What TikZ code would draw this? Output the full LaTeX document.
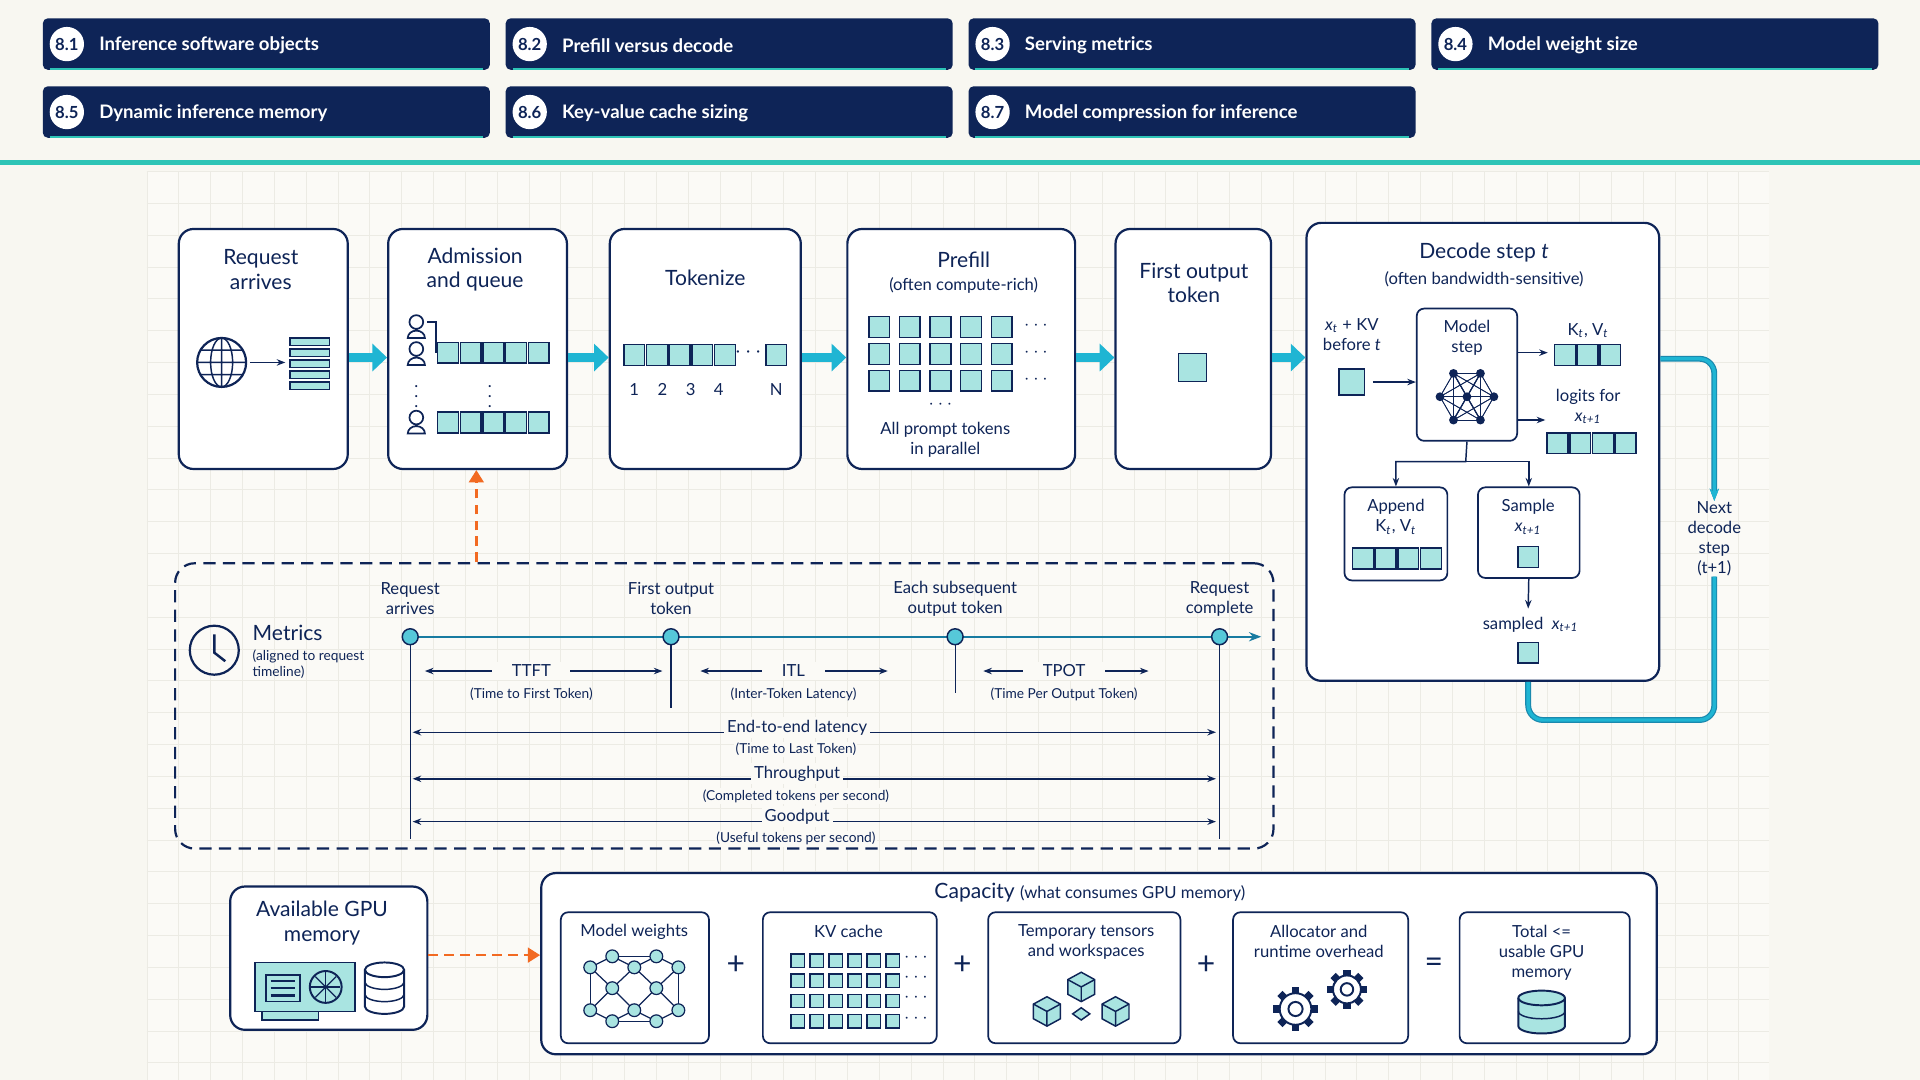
\documentclass[tikz,border=0pt]{standalone}
\usepackage{fontspec}
\setmainfont{Lato}
\usetikzlibrary{arrows.meta,positioning,calc}
\definecolor{navy}{HTML}{0E2457}
\definecolor{teal}{HTML}{A9E4E1}
\definecolor{cyanar}{HTML}{1FB5D3}
\definecolor{orng}{HTML}{F26A22}
\definecolor{bgpaper}{HTML}{F8F7F1}
\definecolor{bgpanel}{HTML}{FBFAF6}
\definecolor{gridc}{HTML}{ECEBE4}
\definecolor{sepc}{HTML}{2EC4B6}
\newcommand{\ftitle}{\fontsize{8.6}{10}\selectfont}
\newcommand{\fsmall}{\fontsize{6.8}{8.2}\selectfont}
\newcommand{\ftiny}{\fontsize{5.6}{6.8}\selectfont}
\newcommand{\vx}[1]{\textit{x}\textsubscript{\textit{#1}}}
\tikzset{
	box/.style={draw=navy, line width=0.9pt, rounded corners=6pt, fill=white, inner sep=0},
	hbar/.style={fill=navy, rounded corners=2pt, minimum width=182.5pt, minimum height=21pt, inner sep=0},
	badge/.style={circle, fill=white, text=navy, inner sep=0, minimum size=14pt, font=\fsmall\bfseries},
	htext/.style={text=white, font=\fontsize{7.6}{9}\selectfont\bfseries, anchor=west},
	sq/.style={draw=navy, fill=teal, line width=0.6pt, minimum size=8.5pt, inner sep=0},
	lbl/.style={text=navy, align=center, inner sep=0},
	bigar/.style={-{Triangle[length=6pt,width=11pt]}, cyanar, line width=4pt},
	thin/.style={-{Stealth[length=3.5pt]}, navy, line width=0.6pt},
	dim/.style={{Stealth[length=3.5pt]}-{Stealth[length=3.5pt]}, navy, line width=0.6pt},
	gbg/.style={fill=bgpanel, inner sep=1.2pt},
}
\begin{document}
\begin{tikzpicture}[x=0.5pt, y=-0.5pt]
\useasboundingbox (0,0) rectangle (1568,882);
\fill[bgpaper] (0,0) rectangle (1568,882);
% panel with grid
\fill[bgpanel] (120,140) rectangle (1445,882);
\foreach \gx in {120,146,...,1445} \draw[gridc, line width=0.3pt] (\gx,140) -- (\gx,882);
\foreach \gy in {140,166,...,882} \draw[gridc, line width=0.3pt] (120,\gy) -- (1445,\gy);

% header bars
\foreach \n/\t [count=\i from 0] in {8.1/Inference software objects, 8.2/Prefill versus decode, 8.3/Serving metrics, 8.4/Model weight size, 8.5/Dynamic inference memory, 8.6/Key-value cache sizing, 8.7/Model compression for inference}{
	\pgfmathtruncatemacro{\col}{mod(\i,4)}
	\pgfmathtruncatemacro{\row}{\i/4}
	\node[hbar] (h\i) at (217.5+378*\col, 36+55.5*\row) {};
	\draw[sepc, line width=0.8pt] ($(h\i.south west)+(6,-1)$) -- ($(h\i.south east)+(-6,-1)$);
	\node[badge] (hb\i) at ($(h\i.west)+(20,0)$) {\n};
	\node[htext] at ($(hb\i.east)+(5,1)$) {\t};
}
\draw[sepc, line width=2pt] (0,133) -- (1568,133);

% top pipeline
\node[box, minimum width=69pt, minimum height=98pt] (req) at (215,285) {};
\node[box, minimum width=73pt, minimum height=98pt] (adm) at (390,285) {};
\node[box, minimum width=78pt, minimum height=98pt] (tok) at (576,285) {};
\node[box, minimum width=93pt, minimum height=98pt] (pre) at (785,285) {};
\node[box, minimum width=63.5pt, minimum height=98pt] (fot) at (974.5,285) {};
\node[box, minimum width=144pt, minimum height=187pt] (dec) at (1211,369) {};
\foreach \a/\b in {req/adm, adm/tok, tok/pre, pre/fot}
	\draw[bigar] (\a.east |- 0,292) -- (\b.west |- 0,292);
\draw[bigar] (fot.east |- 0,292) -- (dec.west |- 0,292);

% request arrives
\node[lbl, font=\ftitle] at (213,220) {Request\\arrives};
\draw[navy, line width=0.9pt] (181,296) circle (10pt);
\draw[navy, line width=0.6pt] (181,296) ellipse (4.5pt and 10pt) (161,296) -- (201,296) (163,286) -- (199,286) (163,306) -- (199,306) (181,276) -- (181,316);
\draw[thin] (204,296) -- (233,296);
\foreach \k in {0,...,4} \draw[navy, fill=teal, line width=0.6pt] (237,276+\k*9) rectangle (269,282+\k*9);

% admission
\node[lbl, font=\ftitle] at (388,220) {Admission\\and queue};
\foreach \yy in {268,290,346}{
	\draw[navy, line width=0.7pt] (340,\yy-5) circle (2.8pt) (333,\yy+8) arc (180:360:7 and 6) -- cycle;
}
\foreach \yy in {288,345}{ \foreach \k in {0,...,4} \node[sq] at (366+\k*18.5,\yy) {}; }
\draw[navy, line width=0.6pt] (349,263) -- (356,263) -- (356,288);
\node[lbl, font=\fsmall] at (340,318) {$\vdots$};
\node[lbl, font=\fsmall] at (400,318) {$\vdots$};

% tokenize
\node[lbl, font=\ftitle] at (576,227) {Tokenize};
\foreach \k in {0,...,4} \node[sq] at (518+\k*18.5,290) {};
\node[lbl, font=\ftitle] at (611,288) {$\cdots$};
\node[sq] at (634,290) {};
\foreach \k/\v in {0/1,1/2,2/3,3/4} \node[lbl, font=\fsmall] at (518+\k*23,318) {\v};
\node[lbl, font=\fsmall] at (634,318) {N};

% prefill
\node[lbl, font=\ftitle] at (787,212) {Prefill};
\node[lbl, font=\fsmall] at (787,233) {(often compute-rich)};
\foreach \r in {0,1,2}{
	\foreach \k in {0,...,4} \node[sq] at (718+\k*25,267+\r*22) {};
	\node[lbl, font=\fsmall] at (846,266+\r*22) {$\cdots$};
}
\node[lbl, font=\fsmall] at (768,330) {$\cdots$};
\node[lbl, font=\fsmall] at (772,359) {All prompt tokens\\in parallel};

% first output token
\node[lbl, font=\ftitle] at (975,231) {First output\\token};
\node[sq, minimum size=11.5pt] at (974,300) {};

% decode step
\node[lbl, font=\ftitle] at (1212,206) {Decode step \textit{t}};
\node[lbl, font=\fsmall] at (1212,228) {(often bandwidth-sensitive)};
\node[box, minimum width=41pt, minimum height=54pt, line width=0.7pt, rounded corners=3pt] (mstep) at (1198,306) {};
\node[lbl, font=\fsmall] at (1198,276) {Model\\step};
\foreach \ang in {0,60,...,300} \coordinate (mn\ang) at ($(1198,324)+(\ang:22)$);
\foreach \ang in {0,60,...,300}{
	\draw[navy, line width=0.5pt] (1198,324) -- (mn\ang);
	\foreach \bng in {0,60,...,300} \draw[navy, line width=0.3pt] (mn\ang) -- (mn\bng);
}
\foreach \ang in {0,60,...,300} \fill[navy] (mn\ang) circle (1.8pt);
\fill[navy] (1198,324) circle (1.8pt);
\node[lbl, font=\fsmall] at (1104,273) {\vx{t} + KV\\before \textit{t}};
\node[sq, minimum size=10.5pt] (xin) at (1104,312) {};
\draw[thin] (xin.east)+(6,0) -- (mstep.west |- xin);
\node[lbl, font=\fsmall] at (1297,270) {K\textsubscript{\textit{t}}, V\textsubscript{\textit{t}}};
\draw[thin] (mstep.east |- 0,288) -- (1264,288);
\foreach \k in {0,1,2} \node[sq] at (1278+\k*18.5,290) {};
\node[lbl, font=\fsmall] at (1297,332) {logits for\\\vx{t+1}};
\draw[thin] (mstep.east |- 0,343) -- (1262,343);
\foreach \k in {0,...,3} \node[sq] at (1272+\k*18.5,362) {};
\node[box, minimum width=42pt, minimum height=38pt, line width=0.7pt, rounded corners=3pt] (app) at (1140,436) {};
\node[box, minimum width=41.5pt, minimum height=37pt, line width=0.7pt, rounded corners=3pt] (smp) at (1248.5,435) {};
\draw[thin] (mstep.south) -- (1197,377) -| (app.north);
\draw[thin] (1197,377) -| (smp.north);
\node[lbl, font=\fsmall] at (1140,422) {Append\\K\textsubscript{\textit{t}}, V\textsubscript{\textit{t}}};
\foreach \k in {0,...,3} \node[sq] at (1113+\k*18.5,456) {};
\node[lbl, font=\fsmall] at (1248,422) {Sample\\\vx{t+1}};
\node[sq] at (1248,455) {};
\coordinate (smpout) at (1248,497);
\draw[thin] (smp.south) -- (smpout);
\node[lbl, font=\fsmall] at (1250,510) {sampled \ \vx{t+1}};
\node[sq] at (1248,533) {};
\node[lbl, font=\fsmall] (nxt) at (1400,440) {Next\\decode\\step\\(t+1)};
\draw[cyanar!70!navy, line width=2.4pt, rounded corners=6pt, -{Stealth[length=5pt]}] (dec.east |- 0,293) -| (nxt.north);
\draw[cyanar, line width=1.4pt, rounded corners=6pt, -{Stealth[length=5pt]}] (dec.east |- 0,293) -| (nxt.north);
\draw[cyanar!70!navy, line width=2.4pt, rounded corners=6pt] (nxt.south) |- (1248,588) -- (dec.south -| 1248,0);
\draw[cyanar, line width=1.4pt, rounded corners=6pt] (nxt.south) |- (1248,588) -- (dec.south -| 1248,0);

% metrics
\node[draw=navy, dashed, dash pattern=on 5pt off 3pt, line width=0.9pt, rounded corners=8pt, minimum width=448.5pt, minimum height=116.5pt] (met) at (591.5,576.5) {};
\draw[orng, line width=1pt, dashed, dash pattern=on 4pt off 2.5pt, -{Triangle[length=5pt,width=6pt]}] (met.north -| 389,0) -- (adm.south -| 389,0);
\draw[navy, line width=0.9pt] (175,531) circle (10pt);
\draw[navy, line width=1pt] (175,518) -- (175,533) -- (184,540);
\node[lbl, font=\ftitle, anchor=west] at (206,517) {Metrics};
\node[lbl, font=\ftiny, anchor=north west, align=left] at (206,530) {(aligned to request\\timeline)};
\coordinate (tend) at (1030,520);
\draw[cyanar!60!navy, line width=1pt, -{Stealth[length=5pt]}] (335,520) -- (tend);
\foreach \nm/\xx/\tt in {ra/335/Request\\arrives, ft/548/First output\\token, es/780/Each subsequent\\output token, rc/996/Request\\complete}{
	\node[circle, draw=navy, fill=cyanar!60!teal, line width=0.6pt, minimum size=6.5pt, inner sep=0] (\nm) at (\xx,520) {};
	\node[lbl, font=\fsmall] at (\xx,489) {\tt};
}
\draw[navy, line width=0.5pt] (ra.south) -- (335,685);
\draw[navy, line width=0.5pt] (rc.south) -- (996,685);
\draw[navy, line width=0.5pt] (ft.south) -- (548,578);
\draw[navy, line width=0.5pt] (es.south) -- (780,566);
% short spans
\foreach \xa/\xb/\xm/\nm/\sub in {347/541/434/TTFT/Time to First Token, 572/725/648/ITL/Inter-Token Latency, 803/938/869/TPOT/Time Per Output Token}{
	\draw[dim] (\xa,548) -- (\xb,548);
	\node[gbg, font=\fsmall, text=navy, inner xsep=8pt] at (\xm,548) {\nm};
	\node[lbl, font=\ftiny] at (\xm,567) {(\sub)};
}
% long spans
\foreach \yy/\nm/\sub in {598/End-to-end latency/Time to Last Token, 636/Throughput/Completed tokens per second, 671/Goodput/Useful tokens per second}{
	\draw[dim] (337,\yy) -- (993,\yy);
	\node[gbg, font=\fsmall, text=navy] at (651,\yy-4) {\nm};
	\node[gbg, font=\ftiny, text=navy, inner sep=0.5pt] at (650,\yy+14) {(\sub)};
}

% GPU memory
\node[box, minimum width=80.5pt, minimum height=58.5pt] (gpu) at (268.5,782.5) {};
\node[lbl, font=\ftitle] at (263,754) {Available GPU\\memory};
\draw[navy, fill=teal, line width=0.7pt] (208,786) rectangle (290,826);
\draw[navy, fill=teal, line width=0.7pt] (214,826) rectangle (260,833);
\draw[navy, line width=0.7pt] (217,796) rectangle (245,818);
\foreach \k in {0,1,2} \draw[navy, line width=1pt] (221,801+\k*6) -- (241,801+\k*6);
\draw[navy, line width=0.8pt] (266,806) circle (6.5pt);
\foreach \ang in {0,45,...,315} \draw[navy, line width=0.5pt] (266,806) -- ++(\ang:12);
\draw[navy, fill=white, line width=0.8pt] (298,792) -- (298,822) arc (180:0:16 and 6) -- (330,792);
\draw[navy, fill=white, line width=0.8pt] (314,792) ellipse (8pt and 3pt);
\draw[navy, line width=0.6pt] (298,802) arc (180:0:16 and 6) (298,812) arc (180:0:16 and 6);
\node[box, minimum width=455.5pt, minimum height=74pt] (cap) at (897.5,787) {};
\draw[orng, line width=1pt, dashed, dash pattern=on 4pt off 2.5pt, -{Triangle[length=5pt,width=6pt]}] (gpu.east |- 0,780) -- (cap.west |- 0,780);
\node[lbl, font=\ftitle] at (890,729) {Capacity {\fsmall (what consumes GPU memory)}};
\foreach \nm/\xx/\w in {mw/518.5/60.5, kv/694/71, tmp/885.5/78.5, alc/1078.5/71.5, tot/1261.5/69.5}
	\node[box, minimum width=\w pt, minimum height=53.5pt, line width=0.7pt, rounded corners=3pt] (\nm) at (\xx,798.5) {};
\foreach \xx/\s in {601/+, 786/+, 985/+, 1171/=} \node[lbl, font=\fontsize{13}{13}\selectfont] at (\xx,788) {\s};
\node[lbl, font=\fsmall] at (518,761) {Model weights};
\foreach \nm/\px/\py in {a/482/790, b/482/825, c/500/781, d/500/807, e/500/834, f/518/790, g/518/825, h/536/781, i/536/807, j/536/834, k/554/790, l/554/825}
	\coordinate (w\nm) at (\px,\py);
\foreach \p/\q in {a/c, a/d, b/d, b/e, c/f, d/f, d/g, e/g, f/h, f/i, g/i, g/j, h/k, i/k, i/l, j/l, c/h, e/j, a/b, k/l}
	\draw[navy, line width=0.5pt] (w\p) -- (w\q);
\foreach \nm in {a,...,l} \draw[navy, fill=teal, line width=0.5pt] (w\nm) circle (2.6pt);
\node[lbl, font=\fsmall] at (693,761) {KV cache};
\foreach \r in {0,...,3}{
	\foreach \k in {0,...,5} \draw[navy, fill=teal, line width=0.6pt] (646+\k*15.5,779+\r*16.5) rectangle ++(11,11);
	\node[lbl, font=\fsmall] at (748,782+\r*16.5) {$\cdots$};
}
\node[lbl, font=\fsmall] at (887,769) {Temporary tensors\\and workspaces};
\foreach \cx/\cy in {883/806, 855/826, 911/826}{
	\draw[navy, fill=teal, line width=0.6pt] (\cx-11,\cy-6) -- (\cx,\cy-12) -- (\cx+11,\cy-6) -- (\cx+11,\cy+6) -- (\cx,\cy+12) -- (\cx-11,\cy+6) -- cycle;
	\draw[navy, line width=0.6pt] (\cx-11,\cy-6) -- (\cx,\cy) -- (\cx+11,\cy-6) (\cx,\cy) -- (\cx,\cy+12);
}
\draw[navy, fill=teal, line width=0.6pt] (883,823) -- (890,828) -- (883,833) -- (876,828) -- cycle;
\node[lbl, font=\fsmall] at (1077,769) {Allocator and\\runtime overhead};
\foreach \cx/\cy/\rr in {1058/824/17, 1100/808/15}{
	\foreach \ang in {0,45,...,315} \draw[navy, line width=3pt] ($(\cx,\cy)+(\ang:\rr-4)$) -- ($(\cx,\cy)+(\ang:\rr+1)$);
	\draw[navy, fill=white, line width=0.8pt] (\cx,\cy) circle (\rr*0.38pt);
	\draw[navy, line width=0.8pt] (\cx,\cy) circle (\rr*0.17pt);
}
\node[lbl, font=\fsmall] at (1259,778) {Total <=\\usable GPU\\memory};
\draw[navy, fill=teal, line width=0.8pt] (1240,815) -- (1240,838) arc (180:0:19 and 6) -- (1278,815);
\draw[navy, fill=teal, line width=0.8pt] (1259,815) ellipse (9.5pt and 3pt);
\draw[navy, line width=0.6pt] (1240,826) arc (180:0:19 and 6);
\end{tikzpicture}
\end{document}
